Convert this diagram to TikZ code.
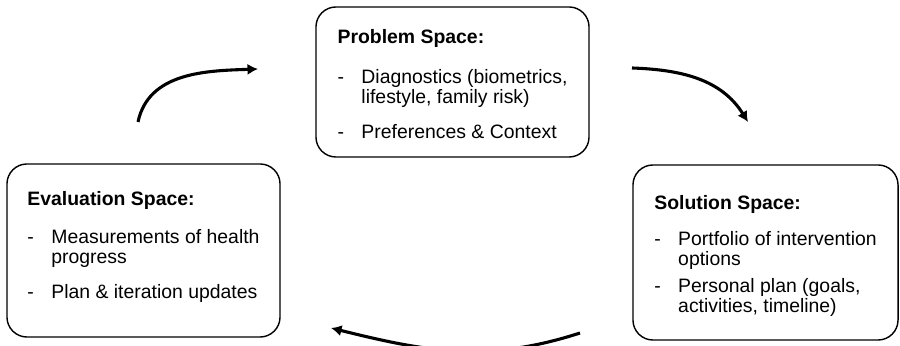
\documentclass[tikz,border=0pt]{standalone}
\usepackage{fontspec}
\setmainfont{Liberation Sans}
\usetikzlibrary{shapes,arrows,arrows.meta}
\tikzstyle{block} = [rectangle, draw, line width=1pt, rounded corners=0.5cm,
    inner sep=0pt, font=\fontsize{13.8}{14.2}\selectfont]
\tikzstyle{line} = [draw, -{Latex[length=7.5pt,width=8pt]}, line width=2.2pt]

\begin{document}
\begin{tikzpicture}[x=0.025cm, y=0.025cm]
    \useasboundingbox (0,0) rectangle (900,346);
    % Place nodes
    \node [block, minimum width=6.825cm, minimum height=3.75cm] (problem) at (452.5,264)
        {\begin{tabular}{@{}p{17pt}@{}l@{}}
         \multicolumn{2}{@{}l@{}}{\rule{0pt}{17pt}\textbf{Problem Space:}}\\[14pt]
         - & Diagnostics (biometrics,\\
           & lifestyle, family risk)\\[10.7pt]
         - & Preferences \& Context
         \end{tabular}};
    \node [block, minimum width=6.825cm, minimum height=4.325cm] (evaluation) at (143.5,95.5)
        {\begin{tabular}{@{}p{17pt}@{}l@{}}
         \multicolumn{2}{@{}l@{}}{\textbf{Evaluation Space:}}\\[13pt]
         - & Measurements of health\\
           & progress\\[10.7pt]
         - & Plan \& iteration updates\\[4pt]
         \end{tabular}};
    \node [block, minimum width=6.625cm, minimum height=4.375cm] (solution) at (765.5,93.5)
        {\begin{tabular}{@{}p{17pt}@{}l@{}}
         \multicolumn{2}{@{}l@{}}{\rule{0pt}{17pt}\textbf{Solution Space:}}\\[10.7pt]
         - & Portfolio of intervention\\
           & options\\[5.5pt]
         - & Personal plan (goals,\\
           & activities, timeline)
         \end{tabular}};
    % Arrow ends
    \coordinate (evalOut) at (138,224);
    \coordinate (probIn) at (258,277);
    \coordinate (probOut) at (632,278);
    \coordinate (solIn) at (748,224);
    \coordinate (solOut) at (580,13);
    \coordinate (evalIn) at (331,18);
    % Draw edges
    \path [line] (evalOut) to[out=78, in=182] (probIn);
    \path [line] (probOut) to[out=-2, in=122] (solIn);
    \path [line] (solOut) to[out=198, in=-14] (evalIn);
\end{tikzpicture}
\end{document}
